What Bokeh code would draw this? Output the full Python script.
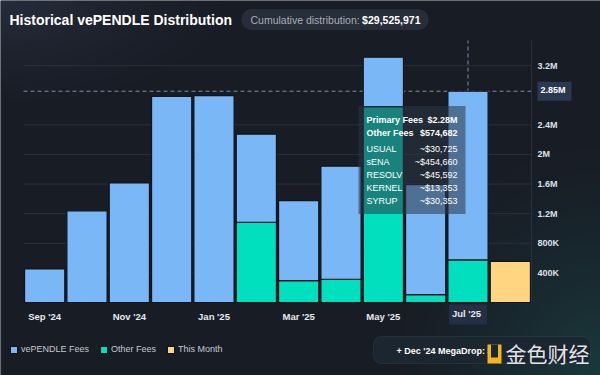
import numpy as np
from bokeh.plotting import figure
from bokeh.models import (Range1d, FixedTicker, Label, Legend, LegendItem, LinearAxis,
                          ColumnDataSource, CustomJSTickFormatter, BoxAnnotation)
from bokeh.embed import file_html
from bokeh.resources import INLINE

# ---------------- data ----------------
months = ["Sep '24", "Oct '24", "Nov '24", "Dec '24", "Jan '25", "Feb '25",
          "Mar '25", "Apr '25", "May '25", "Jun '25", "Jul '25", "Aug '25"]
vependle_fees = [454000, 1238000, 1616000, 2786000, 2796000, 1189000,
                 1081000, 1527000, 667000, 1486000, 2280000, 0]
other_fees = [0, 0, 0, 0, 0, 1084000, 296000, 314000, 2647000, 107000, 574682, 0]
this_month = [0, 0, 0, 0, 0, 0, 0, 0, 0, 0, 0, 557000]
y_ticks = [400000, 800000, 1200000, 1600000, 2000000, 2400000, 3200000]
x_label_months = [0, 2, 4, 6, 8, 10]
hover_index = 10
tooltip_tokens = ["USUAL", "sENA", "RESOLV", "KERNEL", "SYRUP"]
tooltip_token_values = [30725, 454660, 45592, 13353, 30353]
cumulative_text = "$29,525,971"
megadrop_text = "+ Dec '24 MegaDrop: $6"

# ---------------- styling / layout ----------------
BG = "#181c25"
BLUE = "#79b7f7"
GREEN = "#00e0bf"
YELLOW = "#ffd582"
FONT = "Liberation Sans"

W, H = 600, 375
FL, FR, FT, FB = 23, 531, 40, 302       # plot area in canvas pixels
PX0, PX1 = -0.5, 11.5                   # x data at plot area edges
PY1 = 3.54e6                            # y data at plot area top


def xd(px):
    return PX0 + (px - FL) / (FR - FL) * (PX1 - PX0)


def yd(py):
    return PY1 * (FB - py) / (FB - FT)


p = figure(width=W, height=H, x_range=Range1d(xd(0), xd(W)), y_range=Range1d(yd(H), yd(0)),
           output_backend="svg", toolbar_location=None, x_axis_type=None, y_axis_type=None,
           min_border=0)
p.background_fill_color = BG
p.border_fill_color = BG
p.outline_line_color = None

# soft background glow (top-left lighter, bottom-right teal)
gy, gx = np.mgrid[0:H, 0:W].astype(float)
base = np.array([24, 28, 37], float)
tl = np.clip(1 - np.hypot(gx / 260, gy / 120), 0, 1) ** 1.5
br = np.clip(1 - np.hypot((W - gx) / 230, (H - gy) / 260), 0, 1) ** 1.5
rgb = (base[None, None, :]
       + tl[..., None] * np.array([14, 17, 22])[None, None, :]
       + br[..., None] * np.array([2, 30, 24])[None, None, :])
img = np.empty((H, W), dtype=np.uint32)
view = img.view(dtype=np.uint8).reshape((H, W, 4))
view[..., 0] = rgb[..., 0]
view[..., 1] = rgb[..., 1]
view[..., 2] = rgb[..., 2]
view[..., 3] = 255
p.image_rgba(image=[img[::-1]], x=xd(0), y=yd(H), dw=xd(W) - xd(0), dh=yd(0) - yd(H))

# axes (fixed inside the canvas)
ya = LinearAxis(fixed_location=PX1, bounds=(0, PY1), ticker=FixedTicker(ticks=y_ticks))
ya.formatter = CustomJSTickFormatter(code="""
    return tick >= 1e6 ? (tick/1e6) + 'M' : (tick/1e3) + 'K';
""")
ya.axis_line_color = "#2b303a"
ya.major_tick_line_color = None
ya.minor_tick_line_color = None
ya.major_tick_out = 0
ya.major_tick_in = 0
ya.minor_tick_out = 0
ya.major_label_text_color = "#dde1e8"
ya.major_label_text_font = FONT
ya.major_label_text_font_size = "9px"
ya.major_label_text_font_style = "bold"
ya.major_label_standoff = 6
p.add_layout(ya, "right")

xa = LinearAxis(fixed_location=0, bounds=(PX0, PX1), ticker=FixedTicker(ticks=x_label_months))
xa.major_label_overrides = {i: (months[i] if i != hover_index else "") for i in x_label_months}
xa.axis_line_color = None
xa.major_tick_line_color = None
xa.minor_tick_line_color = None
xa.major_tick_out = 0
xa.major_tick_in = 0
xa.minor_tick_out = 0
xa.major_label_text_color = "#e6e9ef"
xa.major_label_text_font = FONT
xa.major_label_text_font_size = "9.5px"
xa.major_label_text_font_style = "bold"
xa.major_label_standoff = 8
p.add_layout(xa, "below")

# grid lines at the tick values
p.segment(x0=PX0, x1=PX1, y0=y_ticks, y1=y_ticks, line_color="#2b303a", line_width=1)

# crosshair
hover_total = vependle_fees[hover_index] + other_fees[hover_index]
p.segment(x0=[PX0], x1=[PX1], y0=[hover_total], y1=[hover_total], line_color="#7d90aa",
          line_dash="4 3", line_width=1)
p.segment(x0=[hover_index], x1=[hover_index], y0=[0], y1=[PY1], line_color="#7d90aa",
          line_dash="4 3", line_width=1)

src = ColumnDataSource(dict(x=list(range(len(months))), other=other_fees,
                            primary=vependle_fees, month=this_month))
rs = p.vbar_stack(["other", "primary"], x="x", width=0.95, source=src,
                  fill_color=[GREEN, BLUE], line_color="#11141b", line_width=1.2)
ry = p.vbar(x="x", top="month", width=0.95, source=src, fill_color=YELLOW,
            line_color="#11141b", line_width=1.2)

# tooltip
p.add_layout(BoxAnnotation(left=xd(358), right=xd(465), top=yd(105.5), bottom=yd(213.5),
                           fill_color="#2c3646", fill_alpha=0.55, line_color=None,
                           level="annotation"))
rows = [("Primary Fees", "$%.2fM" % (vependle_fees[hover_index] / 1e6), 119, "bold"),
        ("Other Fees", "${:,}".format(other_fees[hover_index]), 132, "bold")]
for i, (tok, val) in enumerate(zip(tooltip_tokens, tooltip_token_values)):
    rows.append((tok, "~${:,}".format(val), 148 + i * 13, "normal"))
for name, val, py, style in rows:
    p.add_layout(Label(x=xd(366), y=yd(py), text=name, text_color="white",
                       text_font=FONT, text_font_size="9px",
                       text_font_style="bold" if style == "bold" else "normal",
                       text_baseline="middle", text_align="left"))
    p.add_layout(Label(x=xd(457), y=yd(py), text=val, text_color="white",
                       text_font=FONT, text_font_size="9px", text_font_style=style,
                       text_baseline="middle", text_align="right"))

# axis highlight tags
p.add_layout(Label(x=PX1, y=hover_total, text="2.85M", text_color="white",
                   text_font=FONT, text_font_size="9px", text_font_style="bold",
                   text_baseline="middle", text_align="left", x_offset=6,
                   background_fill_color="#2a3850", padding=(3, 6, 3, 6)))
p.add_layout(Label(x=hover_index, y=yd(314), text=months[hover_index], text_color="#e6e9ef",
                   text_font=FONT, text_font_size="9.5px", text_font_style="bold",
                   text_baseline="middle", text_align="center",
                   background_fill_color="#252f43", padding=(3, 6, 3, 6)))

# title + pill
p.add_layout(Label(x=xd(9), y=yd(19), text="Historical vePENDLE Distribution",
                   text_color="white", text_font=FONT, text_font_size="14px",
                   text_font_style="bold", text_baseline="middle"))
p.add_layout(BoxAnnotation(left=xd(241), right=xd(428), top=yd(8.5), bottom=yd(29.5),
                           fill_color="#272d39", fill_alpha=1, line_color=None,
                           border_radius=10, level="annotation"))
p.add_layout(Label(x=xd(250), y=yd(19), text="Cumulative distribution:",
                   text_color="#a9afbb", text_font=FONT, text_font_size="10.5px",
                   text_baseline="middle"))
p.add_layout(Label(x=xd(420), y=yd(19), text=cumulative_text, text_align="right",
                   text_color="white", text_font=FONT, text_font_size="10.5px",
                   text_font_style="bold", text_baseline="middle"))

# legend (location = bottom-left corner, canvas pixels from the bottom)
legend = Legend(items=[LegendItem(label="vePENDLE Fees", renderers=[rs[1]]),
                       LegendItem(label="Other Fees", renderers=[rs[0]]),
                       LegendItem(label="This Month", renderers=[ry])],
                orientation="horizontal", location=(9, H - 354),
                background_fill_alpha=0, border_line_alpha=0,
                label_text_color="#c5cad3", label_text_font=FONT,
                label_text_font_size="9px", glyph_width=9, glyph_height=9,
                label_standoff=3, spacing=10, padding=0, margin=0)
p.add_layout(legend)

# MegaDrop button + watermark
p.add_layout(BoxAnnotation(left=xd(373), right=xd(590), top=yd(336), bottom=yd(363),
                           fill_color="#1b2630", fill_alpha=1, line_color="#2f5b5e",
                           line_width=1, border_radius=8, level="annotation"))
p.add_layout(Label(x=xd(396), y=yd(350), text=megadrop_text, text_color="white",
                   text_font=FONT, text_font_size="9px", text_font_style="bold",
                   text_baseline="middle"))
p.add_layout(BoxAnnotation(left=xd(487), right=xd(501), top=yd(344), bottom=yd(363),
                           fill_color="#f2b51c", fill_alpha=1, line_color=None,
                           level="annotation"))
p.add_layout(BoxAnnotation(left=xd(490.5), right=xd(497.5), top=yd(344), bottom=yd(357),
                           fill_color="#1b2630", fill_alpha=1, line_color=None,
                           level="annotation"))
p.add_layout(Label(x=xd(505), y=yd(352), text="金色财经", text_color="white", text_alpha=0.9,
                   text_font="Noto Sans CJK SC", text_font_size="21px", text_baseline="middle"))

open("out.html", "w").write(file_html(p, INLINE))
